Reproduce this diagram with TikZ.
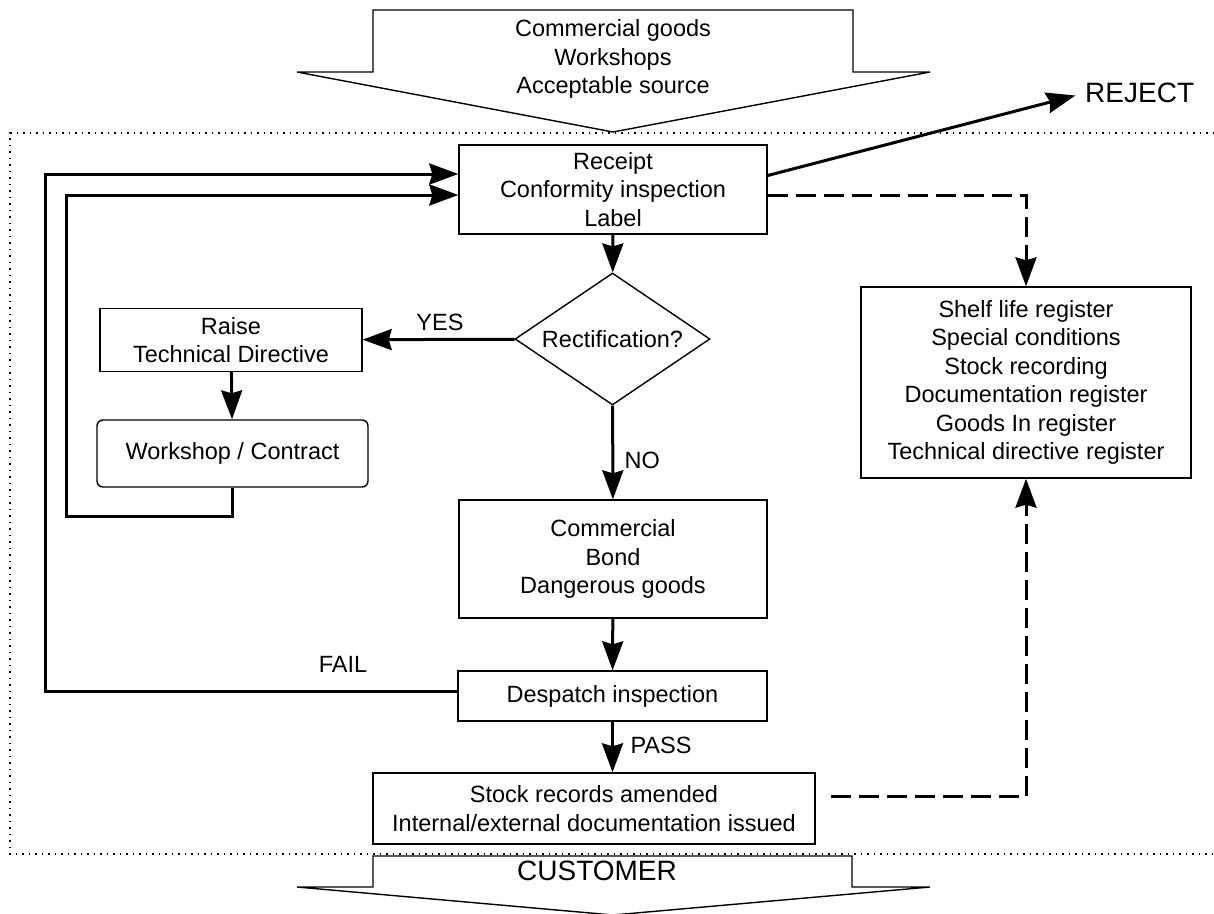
\documentclass[tikz,border=0pt]{standalone}
\usepackage{fontspec}
\setmainfont{Liberation Sans}
\usetikzlibrary{arrows.meta}
\usetikzlibrary{shapes.geometric}

\begin{document}
\begin{tikzpicture}[x=1pt, y=-1pt,
    txt/.style={font=\fontsize{23.5}{28.5}\selectfont},
    bigtxt/.style={font=\fontsize{28}{32}\selectfont},
    box/.style={txt, draw, line width=1.4pt, inner sep=0pt, align=center},
    decision/.style={box, diamond, aspect=1.5, minimum width=195pt, minimum height=132pt},
    flow/.style={line width=3pt, -{Stealth[length=29pt, width=21pt, inset=3pt]}},
    record/.style={flow, dash pattern=on 20pt off 8pt}]
    \useasboundingbox (0,0) rectangle (1214,913);

    % store boundary
    \draw[line width=1.5pt, dash pattern=on 1.5pt off 5pt]
        (1214,133) -| (10,854) -- (1214,854);

    % incoming and outgoing goods
    \draw[line width=1.4pt, fill=white] (373,10) -- (853,10) -- (853,72) -- (930,72)
        -- (613,132) -- (297,72) -- (373,72) -- cycle;
    \node[txt, align=center] (source) at (613,59)
        {Commercial goods\\Workshops\\Acceptable source};
    \draw[line width=1.4pt] (373,856) -- (852,856) -- (852,887) -- (930,887)
        -- (613,915) -- (297,887) -- (373,887) -- cycle;
    \node[bigtxt] (customer) at (597,871) {CUSTOMER};

    \node[box, minimum width=308pt, minimum height=89pt] (receipt) at (613,189.5)
        {Receipt\\Conformity inspection\\Label};
    \node[decision] (rectif) at (612.5,339) {Rectification?};
    \node[box, minimum width=262pt, minimum height=63pt] (raise) at (231,340)
        {Raise\\Technical Directive};
    \node[box, rounded corners=6pt, minimum width=271pt, minimum height=67pt]
        (workshop) at (232.5,453.5) {Workshop / Contract};
    \node[box, minimum width=308pt, minimum height=118pt] (commercial) at (613,559)
        {Commercial\\Bond\\Dangerous goods};
    \node[box, minimum width=309pt, minimum height=50pt] (despatch) at (612.5,696)
        {Despatch inspection};
    \node[box, minimum width=442pt, minimum height=71pt] (stock) at (594,808.5)
        {Stock records amended\\Internal/external documentation issued};
    \node[box, minimum width=330pt, minimum height=191pt] (shelf) at (1026,382.5)
        {Shelf life register\\Special conditions\\Stock recording\\Documentation register\\Goods In register\\Technical directive register};

    \node[bigtxt, anchor=west, inner sep=0pt] (reject) at (1085,93) {REJECT};
    \node[txt] (yes) at (440,322) {YES};
    \node[txt, anchor=west] (no) at (621,460) {NO};
    \node[txt] (fail) at (343,664) {FAIL};
    \node[txt, anchor=west] (pass) at (627,745) {PASS};

    % main flow
    \draw[flow] (receipt) -- (rectif);
    \draw[flow] (rectif) -- (raise);
    \draw[flow] (raise) -- (workshop);
    \draw[flow] (rectif) -- (commercial);
    \draw[flow] (commercial) -- (despatch);
    \draw[flow] (despatch.south) -- (despatch.south |- stock.north);
    \draw[flow, shorten >=10pt] ([yshift=14pt]receipt.east) -- (reject.west);

    % return loops
    \coordinate (loopa) at (66,516);
    \coordinate (loopb) at (45,691);
    \draw[flow] (workshop.south) |- (loopa) |- ([yshift=-5.5pt]receipt.west);
    \draw[flow] ([yshift=5pt]despatch.west) -- (loopb) |- ([yshift=15.5pt]receipt.west);

    % registers
    \draw[record] ([yshift=-5.5pt]receipt.east) -| (shelf.north);
    \draw[record, shorten <=15pt] ([yshift=12pt]stock.east) -| (shelf.south);
\end{tikzpicture}
\end{document}
